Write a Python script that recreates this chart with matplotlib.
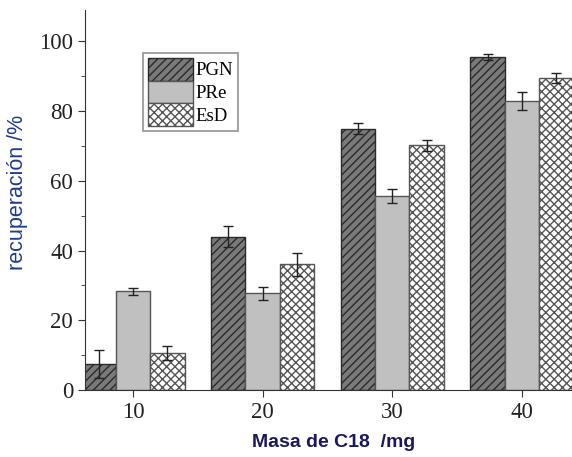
import matplotlib
matplotlib.use("Agg")
import matplotlib.pyplot as plt
import numpy as np
from matplotlib.ticker import MultipleLocator

masses = [10, 20, 30, 40]
series = ["PGN", "PRe", "EsD"]
pgn = [7.5, 44.0, 75.0, 95.5]
pgn_err = [4.0, 3.0, 1.7, 0.8]
pre = [28.3, 27.7, 55.6, 82.9]
pre_err = [1.0, 1.8, 2.0, 2.6]
esd = [10.6, 36.0, 70.2, 89.5]
esd_err = [2.0, 3.3, 1.6, 1.3]

plt.rcParams['hatch.linewidth'] = 1.0
fig = plt.figure(figsize=(5.72, 4.57), dpi=100)
ax = fig.add_axes([85/572, 1-390/457, 1-85/572, 380/457])

w = 2.65
x = np.array(masses, dtype=float)
styles = [
    dict(facecolor="#7a7a7a", edgecolor="#2a2a2a", hatch="////"),
    dict(facecolor="#c0c0c0", edgecolor="#555555", hatch=None),
    dict(facecolor="#ffffff", edgecolor="#555555", hatch="xxxx"),
]
data = [(pgn, pgn_err), (pre, pre_err), (esd, esd_err)]
for i, ((vals, errs), st, name) in enumerate(zip(data, styles, series)):
    ax.bar(x + (i - 1) * w, vals, width=w, label=name, linewidth=1.0, **st,
           yerr=errs, error_kw=dict(ecolor="#222222", elinewidth=1.0, capsize=3.5, capthick=1.0))

ax.set_xlim(6.3, 43.86)
ax.set_ylim(0, 109)
ax.set_xticks(masses)
ax.yaxis.set_major_locator(MultipleLocator(20))
ax.yaxis.set_minor_locator(MultipleLocator(10))
for s in ["top", "right"]:
    ax.spines[s].set_visible(False)
for s in ["left", "bottom"]:
    ax.spines[s].set_color("#333333")
ax.tick_params(axis="both", which="major", direction="out", length=5, colors="#333333",
               labelsize=16.5, labelcolor="#222222")
ax.tick_params(axis="y", which="minor", direction="out", length=3, colors="#333333")
for lab in ax.get_xticklabels() + ax.get_yticklabels():
    lab.set_family("Liberation Serif")

ax.set_ylabel("recuperación /%", family="Liberation Sans", fontsize=15.5, color="#1f3c88")
ax.yaxis.set_label_coords(-0.117, 0.52)
ax.set_xlabel("Masa de C18  /mg", family="Liberation Sans", fontsize=14, fontweight="bold",
              color="#1a1a5a")
ax.xaxis.set_label_coords(0.511, -0.115)

leg = ax.legend(loc="upper left", bbox_to_anchor=(0.119, 0.887), frameon=True, fancybox=False,
                prop=dict(family="Liberation Serif", size=13.5), handlelength=2.4,
                handleheight=1.5, labelspacing=0.0, handletextpad=0.15, borderpad=0.25,
                borderaxespad=0)
leg.get_frame().set_edgecolor("#777777")
leg.get_frame().set_linewidth(1.2)

fig.savefig("out.png", dpi=100)
